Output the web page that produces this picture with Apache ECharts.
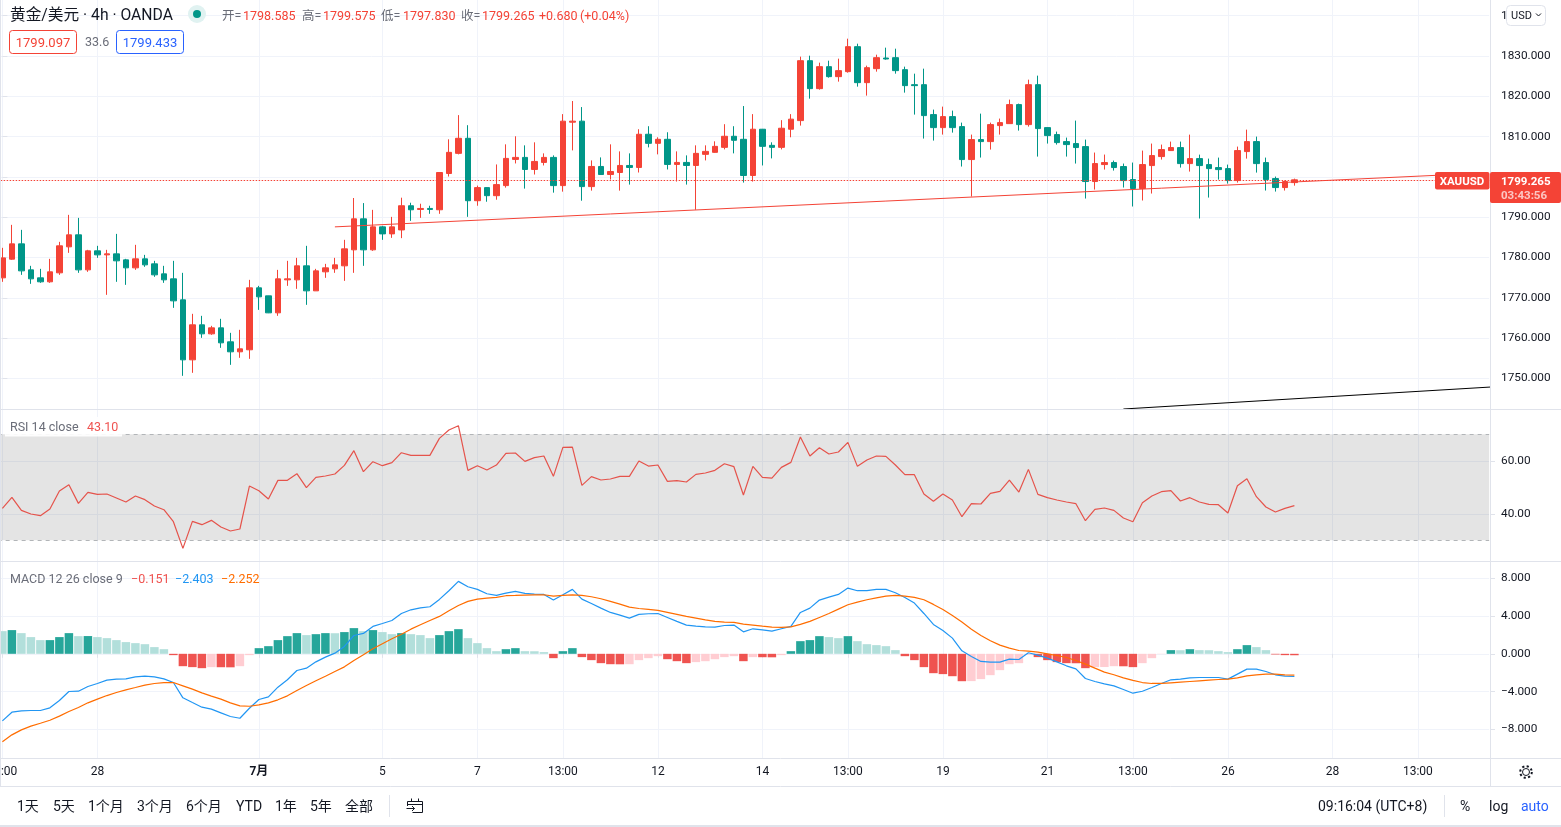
<!DOCTYPE html>
<html>
<head>
<meta charset="utf-8">
<title>黄金/美元 4h OANDA</title>
<script src="https://cdn.jsdelivr.net/npm/echarts@6/dist/echarts.min.js"></script>
<style>
html, body { margin: 0; padding: 0; background: #fff; overflow: hidden; }
#main { width: 1561px; height: 827px; }
</style>
</head>
<body>
<div id="main"></div>
<script type="text/javascript">
// 4h candles
var opens = [
  1774.95,1779.58,1783.38,1776.93,1774.95,1773.96,1776.19,1782.64,1785.62,1776.93,
  1781.65,1780.65,1780.9,1779.41,1777.43,1779.66,1778.42,1775.94,1774.7,1769.49,
  1754.6,1763.29,1761.05,1762.54,1759.07,1756.59,1757.09,1772.47,1770.48,1766.26,
  1774.45,1774.45,1777.93,1771.72,1776.44,1777.18,1777.93,1781.9,1789.59,1781.9,
  1787.6,1785.86,1786.84,1792.84,1791.92,1792.17,1791.84,1800.84,1805.84,1809.58,
  1794.09,1797.34,1795.34,1797.84,1804.34,1804.84,1801.84,1803.59,1804.84,1797.84,
  1813.58,1813.83,1797.59,1802.59,1800.59,1801.09,1802.84,1802.34,1810.58,1808.33,
  1809.33,1803.09,1803.59,1802.84,1805.59,1806.09,1807.33,1810.08,1809.33,1800.34,
  1811.83,1807.83,1807.33,1811.83,1813.97,1828.84,1821.9,1827.36,1824.88,1826.12,
  1832.32,1823.39,1826.86,1829.5,1829.59,1826.61,1822.89,1822.89,1815.46,1812.23,
  1814.96,1812.48,1804.3,1809.26,1808.76,1812.73,1813.22,1817.94,1812.98,1822.89,
  1812.23,1810.5,1808.76,1808.27,1807.52,1798.85,1803.06,1803.56,1802.57,1799.34,
  1797.11,1802.81,1805.04,1806.53,1807.27,1803.3,1804.54,1803.05,1802.31,1802.06,
  1799.09,1806.28,1808.76,1803.55,1799.58,1797.35,1798.585
];
var closes = [
  1779.9,1783.38,1776.68,1774.7,1773.96,1776.44,1782.89,1785.62,1776.93,1781.65,
  1780.65,1780.9,1779.17,1777.43,1779.66,1778.17,1775.69,1774.45,1769.24,1754.6,
  1763.29,1761.05,1762.54,1758.82,1756.59,1757.33,1772.47,1770.23,1766.26,1774.7,
  1774.7,1777.93,1771.72,1776.68,1777.43,1778.17,1782.14,1789.59,1781.9,1787.6,
  1785.86,1787.6,1792.84,1791.84,1792.17,1791.92,1801.09,1806.09,1809.58,1794.09,
  1797.34,1795.34,1798.09,1804.59,1804.84,1801.84,1803.84,1804.84,1797.84,1813.83,
  1813.83,1797.59,1802.59,1800.59,1801.34,1802.84,1802.34,1810.58,1808.33,1809.33,
  1803.09,1803.59,1802.84,1805.84,1806.33,1807.58,1810.08,1809.08,1800.34,1811.83,
  1807.58,1807.33,1812.08,1814.33,1828.84,1821.9,1827.36,1824.88,1826.37,1832.32,
  1823.39,1827.11,1829.59,1829.26,1826.37,1822.65,1822.65,1815.21,1812.23,1814.96,
  1812.23,1804.3,1809.26,1808.76,1812.98,1813.47,1817.94,1812.98,1822.89,1811.99,
  1810.25,1808.51,1808.02,1807.28,1798.85,1803.31,1803.56,1802.32,1799.09,1797.11,
  1803.06,1805.29,1806.78,1807.28,1803.3,1804.54,1802.81,1802.06,1801.81,1799.09,
  1806.53,1808.76,1803.3,1799.33,1797.35,1798.84,1799.265
];
var lows = [
  1773.96,1779.41,1775.69,1773.46,1773.71,1773.71,1775.69,1781.15,1776.19,1776.44,
  1779.91,1770.73,1773.96,1773.21,1776.93,1777.68,1775.2,1773.71,1767.5,1750.63,
  1751.38,1760.06,1760.81,1757.58,1753.36,1755.1,1754.85,1767.0,1766.2,1765.52,
  1772.96,1772.22,1768.25,1771.7,1774.95,1776.19,1774.2,1776.19,1777.93,1781.65,
  1784.38,1784.87,1784.8,1789.09,1789.84,1790.84,1790.84,1800.09,1805.59,1790.09,
  1792.84,1793.84,1794.34,1797.34,1803.34,1797.09,1800.59,1802.84,1796.09,1796.34,
  1806.58,1794.09,1796.59,1800.5,1799.34,1796.59,1798.09,1801.09,1807.33,1805.59,
  1801.84,1798.84,1798.09,1791.84,1804.09,1806.0,1806.83,1805.84,1798.59,1798.84,
  1802.84,1804.59,1806.83,1809.83,1812.73,1819.42,1821.65,1824.63,1823.64,1825.87,
  1822.4,1820.17,1826.12,1829.09,1825.62,1820.91,1815.46,1809.51,1809.01,1810.5,
  1810.99,1802.57,1795.13,1804.8,1806.78,1810.5,1813.2,1811.49,1812.48,1805.04,
  1808.27,1808.02,1805.04,1803.31,1794.63,1796.86,1801.82,1801.57,1797.36,1792.65,
  1794.14,1795.87,1804.3,1806.5,1802.31,1801.32,1789.67,1794.87,1799.33,1798.34,
  1798.59,1804.54,1801.07,1796.61,1796.36,1796.61,1797.83
];
var highs = [
  1782.4,1788.1,1786.86,1777.93,1777.18,1779.66,1783.88,1790.58,1789.83,1781.9,
  1782.89,1781.9,1785.86,1779.66,1783.14,1780.65,1779.17,1777.93,1779.17,1776.19,
  1766.02,1765.52,1763.04,1764.78,1761.3,1762.05,1774.45,1772.96,1770.5,1776.93,
  1779.17,1779.91,1782.89,1777.18,1778.42,1779.91,1784.38,1794.76,1793.5,1791.82,
  1787.85,1790.08,1794.84,1793.59,1793.34,1792.84,1801.1,1809.33,1815.33,1812.83,
  1797.84,1797.4,1803.09,1808.08,1810.08,1807.83,1808.58,1805.84,1805.34,1815.58,
  1818.83,1817.33,1804.09,1804.84,1808.08,1806.33,1805.84,1811.83,1812.58,1809.83,
  1811.08,1806.33,1805.34,1807.83,1807.83,1808.83,1813.08,1812.58,1817.58,1815.58,
  1811.9,1808.58,1814.08,1815.58,1829.84,1830.08,1828.35,1828.84,1829.34,1834.3,
  1833.06,1827.61,1830.33,1832.07,1831.82,1827.36,1825.62,1826.86,1816.7,1817.44,
  1816.45,1813.47,1810.5,1815.7,1813.47,1814.47,1819.18,1818.18,1824.13,1825.13,
  1812.3,1811.24,1809.75,1813.97,1809.26,1806.04,1805.54,1804.05,1803.31,1803.56,
  1806.53,1808.27,1808.02,1808.76,1808.76,1810.49,1805.53,1804.54,1804.79,1803.05,
  1807.52,1811.73,1810,1804.79,1800.08,1799.09,1799.575
];
var rsiValues = [
  42.08,46.23,41.32,39.94,39.31,41.82,48.62,51.0,43.96,48.11,
  47.36,47.49,45.98,44.47,46.73,45.35,42.96,41.57,37.04,26.98,
  37.17,35.91,37.55,35.03,33.52,34.28,50.5,48.74,45.6,52.64,
  52.64,55.16,49.88,53.78,54.28,55.03,58.3,63.84,55.91,59.69,
  58.18,59.31,63.08,62.08,62.08,62.08,68.49,71.64,73.27,56.42,
  58.18,56.54,58.43,62.83,62.96,59.81,61.2,61.83,54.15,65.1,
  65.22,50.76,54.03,52.77,53.15,54.15,54.15,59.94,58.05,58.43,
  52.27,52.52,52.01,54.91,55.41,56.42,58.93,57.8,47.11,57.93,
  53.78,53.52,57.55,59.44,69.0,61.83,64.97,62.58,63.34,66.98,
  57.93,60.32,61.83,61.7,58.43,54.78,54.78,47.49,44.72,47.49,
  45.22,38.93,43.84,43.71,47.74,48.49,52.77,48.24,56.79,47.36,
  46.1,45.22,44.47,43.84,37.42,41.7,42.2,41.32,38.43,37.04,
  44.2,46.73,48.37,48.74,44.84,46.1,44.47,43.59,43.46,40.31,
  50.63,53.27,46.48,42.58,40.69,42.08,43.10
];
var macdLine = [
  -7.10,-6.18,-6.04,-6.0,-6.0,-5.72,-4.94,-3.99,-3.96,-3.46,
  -3.14,-2.79,-2.68,-2.65,-2.44,-2.37,-2.44,-2.65,-3.04,-4.66,
  -5.16,-5.65,-5.86,-6.25,-6.64,-6.82,-5.76,-4.84,-4.56,-3.53,
  -2.75,-1.77,-1.52,-0.85,-0.35,0.07,0.78,1.94,2.16,2.9,
  3.21,3.53,4.27,4.66,4.87,4.98,5.76,6.68,7.67,7.1,
  6.82,6.36,6.18,6.43,6.61,6.39,6.32,6.29,5.69,6.25,
  6.82,5.79,5.33,4.84,4.38,4.1,3.78,4.17,4.24,4.27,
  3.85,3.43,3.04,2.93,2.86,2.83,3.0,3.04,2.33,2.65,
  2.54,2.4,2.65,2.9,4.38,4.84,5.69,6.0,6.29,6.96,
  6.68,6.68,6.82,6.82,6.46,5.97,5.37,4.27,3.11,2.47,
  1.66,0.32,-0.28,-0.81,-0.88,-0.88,-0.56,-0.6,0.11,-0.14,
  -0.46,-0.85,-1.27,-1.59,-2.61,-2.93,-3.18,-3.39,-3.78,-4.17,
  -3.96,-3.57,-3.14,-2.75,-2.68,-2.54,-2.51,-2.51,-2.51,-2.68,
  -2.15,-1.62,-1.62,-1.87,-2.22,-2.37,-2.403
];
var signalLine = [
  -9.32,-8.58,-8.05,-7.66,-7.35,-7.03,-6.6,-6.11,-5.69,-5.19,
  -4.8,-4.42,-4.1,-3.81,-3.57,-3.32,-3.14,-3.04,-3.04,-3.39,
  -3.74,-4.13,-4.48,-4.8,-5.19,-5.51,-5.55,-5.4,-5.19,-4.87,
  -4.45,-3.88,-3.36,-2.86,-2.37,-1.87,-1.38,-0.71,-0.11,0.53,
  1.06,1.59,2.08,2.61,3.07,3.53,3.96,4.56,5.12,5.55,
  5.79,5.9,5.97,6.15,6.18,6.22,6.25,6.25,6.11,6.18,
  6.25,6.18,6.04,5.83,5.55,5.26,4.94,4.8,4.7,4.59,
  4.38,4.17,3.96,3.78,3.6,3.43,3.36,3.32,3.14,3.04,
  2.93,2.83,2.79,2.86,3.11,3.43,3.85,4.27,4.73,5.19,
  5.47,5.72,5.93,6.11,6.18,6.11,5.97,5.72,5.23,4.7,
  4.06,3.36,2.61,1.94,1.38,0.92,0.6,0.35,0.28,0.18,
  0,-0.18,-0.39,-0.71,-1.09,-1.52,-1.94,-2.22,-2.54,-2.82,
  -3.04,-3.14,-3.14,-3.07,-3.0,-2.93,-2.86,-2.79,-2.72,-2.68,
  -2.54,-2.33,-2.22,-2.15,-2.15,-2.22,-2.252
];
var histogram = [
  2.4,2.51,2.19,1.77,1.45,1.45,1.77,2.19,1.87,1.88,
  1.77,1.66,1.45,1.24,1.13,1.02,0.71,0.49,-0.14,-1.31,
  -1.41,-1.52,-1.41,-1.42,-1.43,-1.31,-0.14,0.6,0.81,1.45,
  1.87,2.19,1.98,2.08,2.19,2.18,2.3,2.72,2.4,2.51,
  2.3,2.08,2.19,2.08,1.98,1.66,1.98,2.4,2.61,1.66,
  1.13,0.6,0.28,0.49,0.6,0.28,0.27,0.18,-0.46,0.28,
  0.6,-0.35,-0.67,-0.99,-1.1,-1.11,-1.10,-0.67,-0.46,-0.25,
  -0.57,-0.78,-0.99,-0.88,-0.78,-0.57,-0.35,-0.25,-0.78,-0.35,
  -0.36,-0.37,-0.14,0.28,1.34,1.45,1.87,1.77,1.66,1.87,
  1.34,1.02,0.92,0.81,0.39,-0.25,-0.67,-1.41,-2.05,-2.15,
  -2.37,-2.9,-2.89,-2.68,-2.26,-1.73,-1.1,-0.99,-0.1,-0.35,
  -0.67,-0.88,-0.99,-1.0,-1.52,-1.41,-1.40,-1.31,-1.32,-1.41,
  -0.99,-0.46,-0.03,0.39,0.38,0.49,0.39,0.38,0.28,0.18,
  0.49,0.92,0.71,0.39,-0.07,-0.14,-0.151
];

// trend lines, x is the bar number
var redTrendX = [35, 151];
var redTrendY = [1787.6, 1800.4];
var blackTrendX = [118, 157];
var blackTrendY = [1742.4, 1747.9];

var lastPrice = 1799.265;
var rsiBounds = [70, 30];

// time axis, 157 slots of which the last 20 are empty
var slotCount = 157;
var tickIndexes = [0, 10, 27, 40, 50, 59, 69, 80, 89, 99, 110, 119, 129, 140, 149];
var tickLabels = ['13:00', '28', '7月', '5', '7', '13:00', '12', '14', '13:00', '19', '21', '13:00', '26', '28', '13:00'];

var priceTicks = [1750, 1760, 1770, 1780, 1790, 1800, 1810, 1820, 1830, 1840];
var rsiTicks = [40, 60];
var macdTicks = [-8, -4, 0, 4, 8];

var UP = '#f44336', DOWN = '#009688', LINE = '#e0e3eb', GRID = '#f0f3fa', TXT = '#131722', GREY = '#6a6d78';
var FONT = "Roboto, 'Noto Sans CJK SC', sans-serif";

var slots = [];
for (var s = 0; s < slotCount; s++) slots.push(String(s));

var candles = [];
for (var c = 0; c < opens.length; c++) candles.push([opens[c], closes[c], lows[c], highs[c]]);

function isTick(index) { return tickIndexes.indexOf(index) >= 0; }

function histColor(params) {
  var i = params.dataIndex;
  var rising = i > 0 && histogram[i] >= histogram[i - 1];
  if (histogram[i] >= 0) return rising ? '#26a69a' : '#b2dfdb';
  return rising ? '#ffcdd2' : '#ef5350';
}

function pair(xs, ys) {
  return [[xs[0], ys[0]], [xs[1], ys[1]]];
}

function fmt(digits) {
  return function (v) { return v.toFixed(digits).replace('-', '\u2212'); };
}

function xAxisAt(gridIndex, showLabels) {
  return {
    type: 'category', gridIndex: gridIndex, data: slots, boundaryGap: true,
    axisLine: { show: false },
    axisTick: { show: showLabels, alignWithLabel: true, length: 4, interval: isTick, lineStyle: { color: LINE } },
    axisLabel: {
      show: showLabels, interval: isTick, margin: 8, color: TXT, fontFamily: FONT, fontSize: 12,
      formatter: function (v, i) {
        var label = tickLabels[tickIndexes.indexOf(Number(v))];
        return label === '7月' ? '{b|7月}' : label;
      },
      rich: { b: { fontWeight: 'bold', color: TXT, fontFamily: FONT, fontSize: 12 } }
    },
    splitLine: { show: true, alignWithLabel: true, interval: isTick, lineStyle: { color: GRID, width: 1 } }
  };
}

function yAxisAt(gridIndex, min, max, ticks, digits) {
  return {
    type: 'value', gridIndex: gridIndex, position: 'right', offset: 0.85, min: min, max: max,
    axisLine: { show: false },
    axisTick: { show: true, length: 5, customValues: ticks, lineStyle: { color: LINE } },
    axisLabel: { margin: 11, customValues: ticks, color: TXT, fontFamily: FONT, fontSize: 11.8, padding: [4, 0, 0, 0], formatter: fmt(digits) },
    splitLine: { show: true, lineStyle: { color: GRID, width: 1 } }
  };
}

// ---- everything that is not a mark: panes, legends, toolbar
function text(str, x, y, fill, size, extra) {
  var style = { text: str, x: x, y: y, fill: fill, font: (size || 13) + 'px ' + FONT, textAlign: 'left', textVerticalAlign: 'middle' };
  if (extra) for (var k in extra) style[k] = extra[k];
  return { type: 'text', z: 20, silent: true, style: style };
}
function rect(x, y, w, h, fill, stroke, r, z) {
  return { type: 'rect', z: z || 19, silent: true, shape: { x: x, y: y, width: w, height: h, r: r || 0 }, style: { fill: fill, stroke: stroke || null, lineWidth: 1 } };
}
function hline(x1, x2, y, color) {
  return { type: 'line', z: 18, silent: true, shape: { x1: x1, y1: y, x2: x2, y2: y }, style: { stroke: color || LINE, lineWidth: 1 } };
}
function vline(x, y1, y2, color) {
  return { type: 'line', z: 18, silent: true, shape: { x1: x, y1: y1, x2: x, y2: y2 }, style: { stroke: color || LINE, lineWidth: 1 } };
}
function poly(points) {
  return { type: 'polyline', z: 20, silent: true, shape: { points: points }, style: { stroke: TXT, fill: null, lineWidth: 1 } };
}

var headerItems = [
  ['开=', 222, GREY], ['1798.585', 243, UP], ['高=', 302, GREY], ['1799.575', 323, UP],
  ['低=', 381, GREY], ['1797.830', 403, UP], ['收=', 461, GREY], ['1799.265', 482, UP],
  ['+0.680', 539, UP], ['(+0.04%)', 580, UP]
];
var rangeItems = [
  ['1天', 17], ['5天', 53], ['1个月', 88], ['3个月', 137], ['6个月', 186],
  ['YTD', 236], ['1年', 275], ['5年', 310], ['全部', 345]
];

var graphics = [
  vline(0.5, 0, 786),
  vline(1490.5, 0, 786),
  hline(0, 1561, 409.5),
  hline(0, 1561, 561.5),
  hline(0, 1561, 758.5),
  hline(0, 1561, 786.5),
  rect(0, 825, 1561, 2, LINE, null, 0, 18),

  text('黄金/美元 · 4h · OANDA', 10, 16, TXT, 15.7),
  { type: 'circle', z: 19, silent: true, shape: { cx: 197, cy: 14, r: 9 }, style: { fill: '#e0f2f1' } },
  { type: 'circle', z: 20, silent: true, shape: { cx: 197, cy: 14, r: 4 }, style: { fill: DOWN } },

  rect(9.5, 30.5, 67, 23, '#fff', UP, 3),
  text('1799.097', 43, 43.5, UP, 13, { textAlign: 'center' }),
  text('33.6', 85, 43, GREY, 12.5),
  rect(116.5, 30.5, 67, 23, '#fff', '#2962ff', 3),
  text('1799.433', 150, 43.5, '#2962ff', 13, { textAlign: 'center' }),

  rect(5, 417, 117, 19.5, 'rgba(255,255,255,0.9)', null, 0, 17),
  text('RSI 14 close', 10, 427.5, GREY, 12.5),
  text('43.10', 87, 427.5, '#ef5350', 12.5),
  text('MACD 12 26 close 9', 10, 579.5, GREY, 12.5),
  text('\u22120.151', 131, 579.5, '#ef5350', 12.5),
  text('\u22122.403', 175, 579.5, '#2196f3', 12.5),
  text('\u22122.252', 221, 579.5, '#ff6d00', 12.5),

  // price tags
  rect(1435, 172, 54.5, 17.5, UP, null, 2),
  text('XAUUSD', 1462, 182, '#fff', 11, { textAlign: 'center', font: 'bold 11.5px ' + FONT }),
  rect(1490, 172, 71, 31, UP, null, 2),
  hline(1490, 1495, 180.5, '#fff'),
  text('1799.265', 1501, 182, '#fff', 12, { font: 'bold 11.5px ' + FONT }),
  text('03:43:56', 1501, 196.5, 'rgba(255,255,255,0.7)', 12, { font: 'bold 11.5px ' + FONT }),

  // currency button over the top tick label
  rect(1506, 5, 48, 21, '#fff', null, 0, 18),
  rect(1506.5, 5.5, 39, 20, '#fff', LINE, 4),
  text('USD', 1511, 16, TXT, 11),
  poly([[1536, 13.5], [1538.5, 16], [1541, 13.5]]),

  // gear
  { type: 'circle', z: 20, silent: true, shape: { cx: 1526, cy: 772, r: 3.5 }, style: { fill: null, stroke: TXT, lineWidth: 1 } },
  { type: 'circle', z: 20, silent: true, shape: { cx: 1526, cy: 772, r: 5.8 }, style: { fill: null, stroke: TXT, lineWidth: 2, lineDash: [2.2, 2.35] } },

  vline(389.5, 795, 817),
  // go to date icon
  poly([[407.5, 806], [407.5, 801.5], [422.5, 801.5], [422.5, 812.5], [412.5, 812.5]]),
  poly([[407.5, 804.5], [422.5, 804.5]]),
  poly([[411.5, 798.5], [411.5, 801.5]]),
  poly([[418.5, 798.5], [418.5, 801.5]]),
  poly([[406.5, 808.5], [414.5, 808.5]]),
  poly([[412, 806], [414.5, 808.5], [412, 811]]),

  text('09:16:04 (UTC+8)', 1318, 807, TXT, 14),
  vline(1444.5, 795, 817),
  text('%', 1460, 807, TXT, 14),
  text('log', 1489, 807, TXT, 14),
  text('auto', 1521, 807, '#2962ff', 14)
];
for (var h = 0; h < headerItems.length; h++) graphics.push(text(headerItems[h][0], headerItems[h][1], 16.5, headerItems[h][2], 12.5));
for (var r = 0; r < rangeItems.length; r++) graphics.push(text(rangeItems[r][0], rangeItems[r][1], 807, TXT, 14));

var myChart = echarts.init(document.getElementById('main'), null, { renderer: 'canvas' });

myChart.setOption({
  animation: false,
  backgroundColor: '#fff',
  tooltip: { show: false },
  textStyle: { fontFamily: FONT },
  grid: [
    { left: -2.35, width: 1491.5, top: 0, height: 409, outerBoundsMode: 'none' },
    { left: -2.35, width: 1491.5, top: 410, height: 151, outerBoundsMode: 'none' },
    { left: -2.35, width: 1491.5, top: 562, height: 196, outerBoundsMode: 'none' }
  ],
  xAxis: [
    xAxisAt(0, false),
    xAxisAt(1, false),
    xAxisAt(2, true),
    // same pane as the candles, numbered by bar, lets the trend lines run to the pane edge
    { type: 'value', gridIndex: 0, show: false, min: -0.5, max: 156.5, splitLine: { show: false } }
  ],
  yAxis: [
    yAxisAt(0, 1742.4, 1843.9, priceTicks, 3),
    yAxisAt(1, 22.2, 79.2, rsiTicks, 2),
    yAxisAt(2, -11.03, 9.72, macdTicks, 3)
  ],
  graphic: graphics,
  series: [
    {
      type: 'candlestick', xAxisIndex: 0, yAxisIndex: 0, data: candles, barWidth: 6, z: 2,
      itemStyle: { color: UP, color0: DOWN, borderColor: UP, borderColor0: DOWN, borderWidth: 1 },
      markLine: {
        silent: true, symbol: 'none', animation: false, label: { show: false },
        lineStyle: { color: UP, width: 1.2, type: [1.5, 1.5], opacity: 1 },
        data: [{ yAxis: lastPrice }]
      }
    },
    {
      type: 'line', xAxisIndex: 3, yAxisIndex: 0, data: pair(redTrendX, redTrendY), z: 3,
      symbol: 'none', lineStyle: { color: UP, width: 1 }
    },
    {
      type: 'line', xAxisIndex: 3, yAxisIndex: 0, data: pair(blackTrendX, blackTrendY), z: 3,
      symbol: 'none', lineStyle: { color: '#000', width: 1 }
    },
    {
      type: 'line', xAxisIndex: 1, yAxisIndex: 1, data: rsiValues, z: 3,
      symbol: 'none', lineStyle: { color: '#e5534b', width: 1.2 },
      markArea: {
        silent: true, animation: false, itemStyle: { color: 'rgba(0,0,0,0.105)' },
        data: [[{ yAxis: rsiBounds[0] }, { yAxis: rsiBounds[1] }]]
      },
      markLine: {
        silent: true, symbol: 'none', animation: false, label: { show: false },
        lineStyle: { color: '#b2b5b8', width: 1, type: [4, 4], opacity: 1 },
        data: [{ yAxis: rsiBounds[0] }, { yAxis: rsiBounds[1] }]
      }
    },
    {
      type: 'bar', xAxisIndex: 2, yAxisIndex: 2, data: histogram, barWidth: 8.5, z: 2,
      itemStyle: { color: histColor }
    },
    {
      type: 'line', xAxisIndex: 2, yAxisIndex: 2, data: macdLine, z: 3,
      symbol: 'none', lineStyle: { color: '#2196f3', width: 1.2 }
    },
    {
      type: 'line', xAxisIndex: 2, yAxisIndex: 2, data: signalLine, z: 4,
      symbol: 'none', lineStyle: { color: '#ff6d00', width: 1.2 }
    }
  ]
});
</script>
</body>
</html>
